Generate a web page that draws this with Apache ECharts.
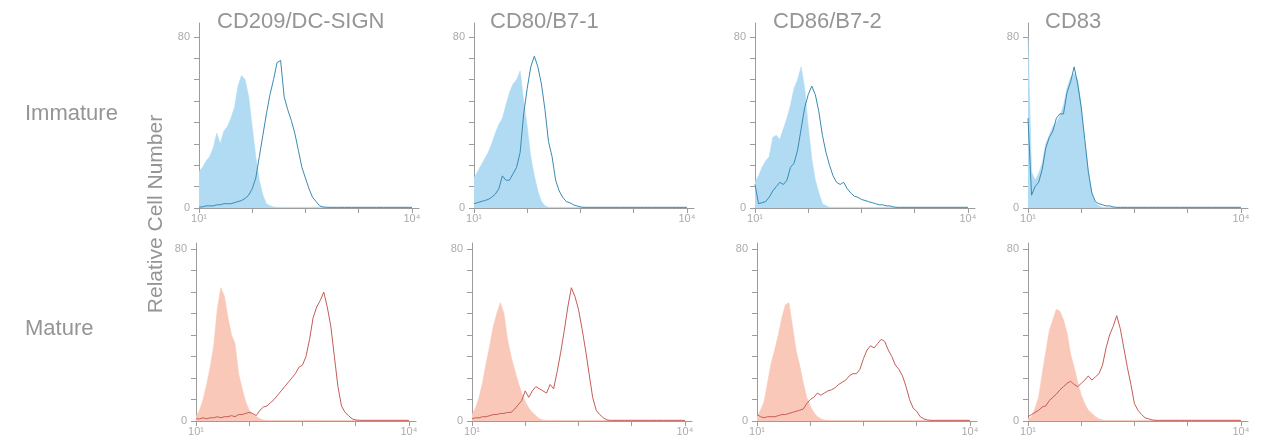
<!DOCTYPE html>
<html>
<head>
<meta charset="utf-8">
<script src="https://cdn.jsdelivr.net/npm/echarts@6/dist/echarts.min.js"></script>
<style>
  html, body { margin: 0; background: #fff; }
  #chart { width: 1284px; height: 440px; }
</style>
</head>
<body>
<div id="chart"></div>
<script>
// log10 fluorescence bins (10^1 .. 10^4)
var bins = [
  1.00,1.05,1.10,1.15,1.20,1.25,1.30,1.35,1.40,1.45,
  1.50,1.55,1.60,1.65,1.70,1.75,1.80,1.85,1.90,1.95,
  2.00,2.05,2.10,2.15,2.20,2.25,2.30,2.35,2.40,2.45,
  2.50,2.55,2.60,2.65,2.70,2.75,2.80,2.85,2.90,2.95,
  3.00,3.05,3.10,3.15,3.20,3.25,3.30,3.35,3.40,3.45,
  3.50,3.55,3.60,3.65,3.70,3.75,3.80,3.85,3.90,3.95,
  4.00
];
var markers = ['CD209/DC-SIGN', 'CD80/B7-1', 'CD86/B7-2', 'CD83'];
var stages = ['Immature', 'Mature'];
var xTicks = [1, 1.75, 2.5, 3.25, 4];
var xLabels = [1, 4];
var yTicks = [0, 10, 20, 30, 40, 50, 60, 70, 80];
var yLabels = [0, 80];

// immature, isotype (filled) and stained (outline)
var imm209Iso = [17,19,22,24,28,35,30,36,38,42, 47,57,62,60,52,38,24,13,6,2, 1,0.5,.3,.3,.3,.3,.3,.3,.3,.3, .3,.3,.3,.3,.3,.3,.3,.3,.3,.3, .3,.3,.3,.3,.3,.3,.3,.3,.3,.3, .3,.3,.3,.3,.3,.3,.3,.3,.3,.3, .3];
var imm209 = [0.5,0.5,1,1,1,1.5,1.5,2,2,2, 2.5,3,3.5,4.5,6,9,14,24,34,44, 53,60,68,69,52,46,41,35,27,19, 14,9,5,3,1,0.5,.3,.3,.3,.3, .3,.3,.3,.3,.3,.3,.3,.3,.3,.3, .3,.3,.3,.3,.3,.3,.3,.3,.3,.3, .3];
var imm80Iso = [14,17,20,23,26,30,35,39,42,48, 54,58,60,64,50,38,24,15,8,3, 1,.3,.3,.3,.3,.3,.3,.3,.3,.3, .3,.3,.3,.3,.3,.3,.3,.3,.3,.3, .3,.3,.3,.3,.3,.3,.3,.3,.3,.3, .3,.3,.3,.3,.3,.3,.3,.3,.3,.3, .3];
var imm80 = [2,2.5,3,3.5,4,5,6.5,9,15,13, 13,16,19,26,44,56,66,71,66,58, 46,31,24,13,8,5,3,2.5,1.5,1, 0.5,.3,.3,.3,.3,.3,.3,.3,.3,.3, .3,.3,.3,.3,.3,.3,.3,.3,.3,.3, .3,.3,.3,.3,.3,.3,.3,.3,.3,.3, .3];
var imm86Iso = [12,15,19,22,24,33,34,32,37,42, 48,56,60,66,56,38,23,13,7,2, 1,.3,.3,.3,.3,.3,.3,.3,.3,.3, .3,.3,.3,.3,.3,.3,.3,.3,.3,.3, .3,.3,.3,.3,.3,.3,.3,.3,.3,.3, .3,.3,.3,.3,.3,.3,.3,.3,.3,.3, .3];
var imm86 = [11,2,2.5,3,5,8,10,12,11,13, 19,21,27,37,47,53,57,53,45,34, 26,20,15,12,11,12,9,7,5.5,5, 4,3.5,3,2.5,2,1.5,1.5,1,1,0.5, .3,.3,.3,.3,.3,.3,.3,.3,.3,.3, .3,.3,.3,.3,.3,.3,.3,.3,.3,.3, .3];
var imm83Iso = [80,17,13,16,21,30,34,38,40,43, 48,56,61,63,60,48,31,17,7,2.5, 1,.3,.3,.3,.3,.3,.3,.3,.3,.3, .3,.3,.3,.3,.3,.3,.3,.3,.3,.3, .3,.3,.3,.3,.3,.3,.3,.3,.3,.3, .3,.3,.3,.3,.3,.3,.3,.3,.3,.3, .3];
var imm83 = [42,6,10,12,18,28,33,36,42,44, 44,54,59,66,58,47,32,17,7,3, 2,1.5,1,1,0.5,.3,.3,.3,.3,.3, .3,.3,.3,.3,.3,.3,.3,.3,.3,.3, .3,.3,.3,.3,.3,.3,.3,.3,.3,.3, .3,.3,.3,.3,.3,.3,.3,.3,.3,.3, .3];

// mature, isotype (filled) and stained (outline)
var mat209Iso = [2,5,10,17,25,35,52,62,58,48, 40,36,22,15,9,5,3,2,1,0.5, .3,.3,.3,.3,.3,.3,.3,.3,.3,.3, .3,.3,.3,.3,.3,.3,.3,.3,.3,.3, .3,.3,.3,.3,.3,.3,.3,.3,.3,.3, .3,.3,.3,.3,.3,.3,.3,.3,.3,.3, .3];
var mat209 = [1,1,1.5,1,1.5,1.5,2,1.5,2,2, 2.5,2,3,3,3.5,4,3.5,2.5,5,6.5, 7,8.5,10,12,14,16,18,20,22,25, 26,30,38,48,53,56,60,53,44,30, 16,7,4,2.5,1,0.5,.3,.3,.3,.3, .3,.3,.3,.3,.3,.3,.3,.3,.3,.3, .3];
var mat80Iso = [3,6,11,18,27,35,44,50,55,50, 38,30,24,18,13,9,6,4,2.5,1, 0.5,.3,.3,.3,.3,.3,.3,.3,.3,.3, .3,.3,.3,.3,.3,.3,.3,.3,.3,.3, .3,.3,.3,.3,.3,.3,.3,.3,.3,.3, .3,.3,.3,.3,.3,.3,.3,.3,.3,.3, .3];
var mat80 = [1,1.5,1.5,2,2,2.5,3,3,3.5,3.5, 4,4,5.5,7.5,9.5,14,11,14,16,15, 14,13,17,15,23,32,42,53,62,58, 52,43,33,22,11,5,3,1.5,0.5,.3, .3,.3,.3,.3,.3,.3,.3,.3,.3,.3, .3,.3,.3,.3,.3,.3,.3,.3,.3,.3, .3];
var mat86Iso = [2,5,9,18,27,33,40,48,54,55, 44,33,26,18,11,7,4,2,1,0.5, .3,.3,.3,.3,.3,.3,.3,.3,.3,.3, .3,.3,.3,.3,.3,.3,.3,.3,.3,.3, .3,.3,.3,.3,.3,.3,.3,.3,.3,.3, .3,.3,.3,.3,.3,.3,.3,.3,.3,.3, .3];
var mat86 = [3,2,1.5,2,2,2,2.5,3,3,3.5, 4,4.5,5,5.5,8,10,11,13,12,13, 14,14.5,15.5,17,18,19,21,22,22,24, 29,33,35,34,36,38,37,33,30,26, 24,21,16,10,6,4.5,2,1,0.5,.3, .3,.3,.3,.3,.3,.3,.3,.3,.3,.3, .3];
var mat83Iso = [1,2,6,11,22,32,42,47,52,51, 47,41,31,25,18,12,8,5,3.5,2, 1,0.5,.3,.3,.3,.3,.3,.3,.3,.3, .3,.3,.3,.3,.3,.3,.3,.3,.3,.3, .3,.3,.3,.3,.3,.3,.3,.3,.3,.3, .3,.3,.3,.3,.3,.3,.3,.3,.3,.3, .3];
var mat83 = [2,3,4,5,6.5,7,9.5,11,12.5,14.5, 16,17.5,18.5,17,16,17.5,19,21,19,20.5, 22,26,34,40,44,49,43,34,25,17, 8,5,3,1.5,1,0.5,.3,.3,.3,.3, .3,.3,.3,.3,.3,.3,.3,.3,.3,.3, .3,.3,.3,.3,.3,.3,.3,.3,.3,.3, .3];

var panels = [
  [imm209Iso, imm209], [imm80Iso, imm80], [imm86Iso, imm86], [imm83Iso, imm83],
  [mat209Iso, mat209], [mat80Iso, mat80], [mat86Iso, mat86], [mat83Iso, mat83]
];

// layout
var colLeft = [[199, 474, 755, 1028], [196, 472, 757, 1028]];
var rowTop = [23, 243], rowH = [185, 178], rowMax = [86.5, 82.8];
var looks = [
  { fill: '#b0dbf3', line: '#3a8ab3' },
  { fill: '#f9c8b9', line: '#c45d57' }
];
var axisGray = '#9c9c9c', labelGray = '#ababab', textGray = '#959595';
var font = 'Liberation Sans, Arial, sans-serif';

function pairs(vals){ return bins.map(function(b, k){ return [b, vals[k]]; }); }

var grid = [], xAxis = [], yAxis = [], series = [];
panels.forEach(function(p, i){
  var r = Math.floor(i / 4), c = i % 4, look = looks[r];
  grid.push({ left: colLeft[r][c], top: rowTop[r], width: 220, height: rowH[r] });
  xAxis.push({
    type: 'value', gridIndex: i, min: 1, max: 4.1,
    splitLine: { show: false },
    axisLine: { lineStyle: { color: axisGray, width: 1 } },
    axisTick: { length: 5, customValues: xTicks, lineStyle: { color: axisGray } },
    axisLabel: {
      customValues: xLabels, color: labelGray, fontSize: 11, margin: 5, fontFamily: font,
      formatter: function(v){ return v < 2 ? '10¹' : '10⁴'; }
    }
  });
  yAxis.push({
    type: 'value', gridIndex: i, min: 0, max: rowMax[r],
    splitLine: { show: false },
    axisLine: { show: true, lineStyle: { color: axisGray, width: 1 } },
    axisTick: { show: true, length: 5, customValues: yTicks, lineStyle: { color: axisGray } },
    axisLabel: { customValues: yLabels, color: labelGray, fontSize: 11, margin: 9, fontFamily: font }
  });
  series.push({
    type: 'line', xAxisIndex: i, yAxisIndex: i, data: pairs(p[0]),
    symbol: 'none', sampling: 'none', z: 2, silent: true,
    lineStyle: { color: look.fill, width: 0.6 },
    areaStyle: { color: look.fill, opacity: 1 }
  });
  series.push({
    type: 'line', xAxisIndex: i, yAxisIndex: i, data: pairs(p[1]),
    symbol: 'none', sampling: 'none', z: 3, silent: true,
    lineStyle: { color: look.line, width: 1 }
  });
});

var titleLeft = [217, 490, 773, 1045];
var graphic = [];
markers.forEach(function(m, c){
  graphic.push({ type: 'text', x: titleLeft[c], y: 22,
    style: { text: m, fill: textGray, font: '22px ' + font, textAlign: 'left', textVerticalAlign: 'middle' } });
});
var stageY = [114, 329];
stages.forEach(function(s, r){
  graphic.push({ type: 'text', x: 25, y: stageY[r],
    style: { text: s, fill: textGray, font: '22px ' + font, textAlign: 'left', textVerticalAlign: 'middle' } });
});
graphic.push({ type: 'text', x: 156, y: 214, rotation: Math.PI / 2,
  style: { text: 'Relative Cell Number', fill: textGray, font: '21px ' + font, textAlign: 'center', textVerticalAlign: 'middle' } });

var chart = echarts.init(document.getElementById('chart'), null, { renderer: 'canvas' });
chart.setOption({
  animation: false,
  backgroundColor: '#fff',
  grid: grid, xAxis: xAxis, yAxis: yAxis, series: series,
  graphic: graphic
});
</script>
</body>
</html>
